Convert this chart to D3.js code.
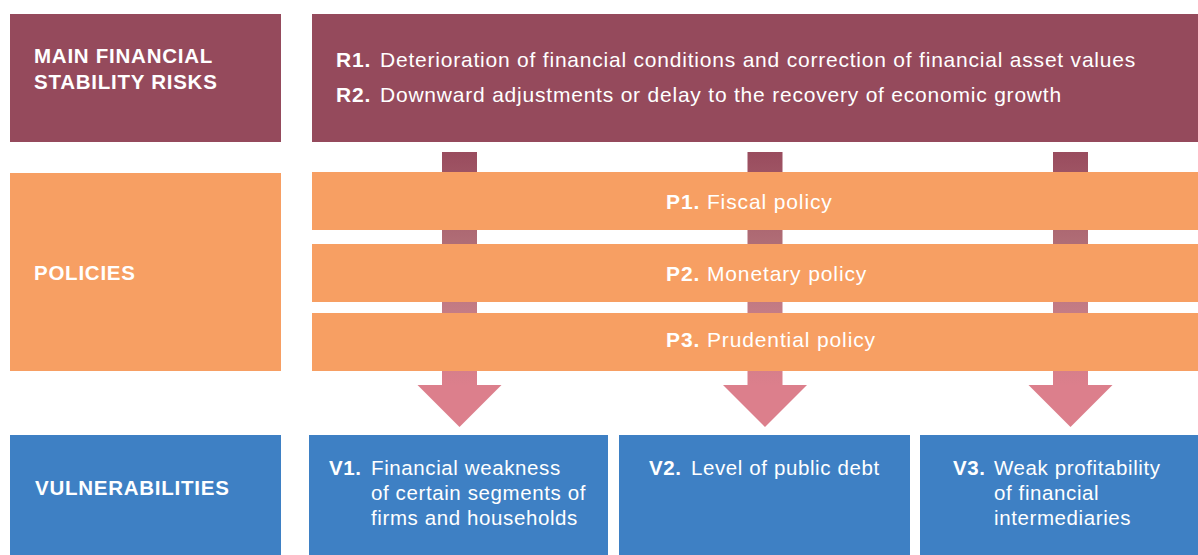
<!DOCTYPE html>
<html><head><meta charset="utf-8">
<script src="https://cdn.jsdelivr.net/npm/d3@7"></script>
<style>html,body{margin:0;padding:0;background:#fff;}svg{display:block;}</style>
</head><body>
<svg id="c" width="1198" height="555"></svg>
<script>
const rowLabels = ["MAIN FINANCIAL\nSTABILITY RISKS", "POLICIES", "VULNERABILITIES"];
const riskCodes = ["R1.", "R2."];
const riskTexts = ["Deterioration of financial conditions and correction of financial asset values",
                   "Downward adjustments or delay to the recovery of economic growth"];
const policyCodes = ["P1.", "P2.", "P3."];
const policyTexts = ["Fiscal policy", "Monetary policy", "Prudential policy"];
const vulnCodes = ["V1.", "V2.", "V3."];
const vulnTexts = [["Financial weakness", "of certain segments of", "firms and households"],
                   ["Level of public debt"],
                   ["Weak profitability", "of financial", "intermediaries"]];

const W = 1198, H = 555;
const svg = d3.select("#c");
const FONT = "'Liberation Sans', Arial, Helvetica, sans-serif";
const C = {risk: "#954a5c", policy: "#f79f63", vuln: "#3e80c4"};

function track(sel, refNode, target) {
  const w = refNode.getComputedTextLength();
  const n = refNode.textContent.length;
  const ls = (target - w) / n;
  sel.attr("letter-spacing", ls.toFixed(3));
}

const defs = svg.append("defs");
const g = defs.append("linearGradient").attr("id", "ag").attr("gradientUnits", "userSpaceOnUse")
  .attr("x1", 0).attr("x2", 0).attr("y1", 152).attr("y2", 427);
g.append("stop").attr("offset", 0).attr("stop-color", "#994c5e");
g.append("stop").attr("offset", 0.33).attr("stop-color", "#b06d76");
g.append("stop").attr("offset", 0.6).attr("stop-color", "#c67d86");
g.append("stop").attr("offset", 0.85).attr("stop-color", "#dc7f8c");
g.append("stop").attr("offset", 1).attr("stop-color", "#dc7f8c");

const leftX = 10, leftW = 271;
const rowY = [14, 173, 435], rowH = [128, 198, 120];
const rowCol = [C.risk, C.policy, C.vuln];
const labelBase = [[63, 89], [280], [495]];

// left boxes
const boxes = svg.append("g");
const lab = svg.append("g").attr("font-family", FONT).attr("font-weight", "bold").attr("font-size", 20.5).attr("fill", "#fff");
let labRef;
rowLabels.forEach((l, i) => {
  boxes.append("rect").attr("x", leftX).attr("y", rowY[i]).attr("width", leftW).attr("height", rowH[i]).attr("fill", rowCol[i]);
  l.split("\n").forEach((ln, j) => {
    const t = lab.append("text").attr("x", i === 2 ? 35 : 34).attr("y", labelBase[i][j]).text(ln);
    if (i === 0 && j === 0) labRef = t.node();
  });
});
track(lab, labRef, 179);

// risk box
boxes.append("rect").attr("x", 312).attr("y", 14).attr("width", W - 312).attr("height", 128).attr("fill", C.risk);
const riskY = d3.scalePoint().domain(d3.range(riskCodes.length)).range([67, 101.5]);
const rg = svg.append("g").attr("font-family", FONT).attr("font-size", 21).attr("fill", "#fff");
let riskRef;
riskCodes.forEach((c, i) => {
  rg.append("text").attr("x", 336).attr("y", riskY(i)).attr("font-weight", "bold").text(c);
  const t = rg.append("text").attr("x", 380).attr("y", riskY(i)).text(riskTexts[i]);
  if (i === 0) riskRef = t.node();
});
track(rg, riskRef, 756);

// arrows
const arrowX = d3.scalePoint().domain(d3.range(vulnCodes.length)).range([459.5, 1070.5]);
d3.range(vulnCodes.length).forEach(i => {
  const cx = arrowX(i), sw = 17.5, hw = 42, y0 = 152, yh = 385, yt = 427;
  const p = d3.path();
  p.moveTo(cx - sw, y0); p.lineTo(cx + sw, y0); p.lineTo(cx + sw, yh); p.lineTo(cx + hw, yh);
  p.lineTo(cx, yt); p.lineTo(cx - hw, yh); p.lineTo(cx - sw, yh); p.closePath();
  boxes.append("path").attr("d", p.toString()).attr("fill", "url(#ag)");
});

// policy bars
const polY = [172, 244, 313], polH = 58, polBase = [208.5, 280.5, 347];
const pg = svg.append("g").attr("font-family", FONT).attr("font-size", 21).attr("fill", "#fff");
let polRef;
policyCodes.forEach((c, i) => {
  boxes.append("rect").attr("x", 312).attr("y", polY[i]).attr("width", W - 312).attr("height", polH).attr("fill", C.policy);
  const t = pg.append("text").attr("x", 666).attr("y", polBase[i]);
  t.append("tspan").attr("font-weight", "bold").text(c + " ");
  t.append("tspan").text(policyTexts[i]);
  if (i === 2) polRef = t.node();
});
track(pg, polRef, 210);

// vulnerability boxes
const vX = [309, 619, 920], vR = [608, 910, 1198];
const codeX = [329, 649, 953], txtX = [371, 691, 994];
vulnCodes.forEach((c, i) => {
  boxes.append("rect").attr("x", vX[i]).attr("y", 435).attr("width", vR[i] - vX[i]).attr("height", H - 435).attr("fill", C.vuln);
});
const vg = svg.append("g").attr("font-family", FONT).attr("font-size", 20.5).attr("fill", "#fff");
let vRef;
vulnCodes.forEach((c, i) => {
  vg.append("text").attr("x", codeX[i]).attr("y", 475).attr("font-weight", "bold").text(c);
  vulnTexts[i].forEach((ln, j) => {
    const t = vg.append("text").attr("x", txtX[i]).attr("y", 475 + j * 25).text(ln);
    if (i === 0 && j === 1) vRef = t.node();
  });
});
track(vg, vRef, 215);
</script>
</body></html>
